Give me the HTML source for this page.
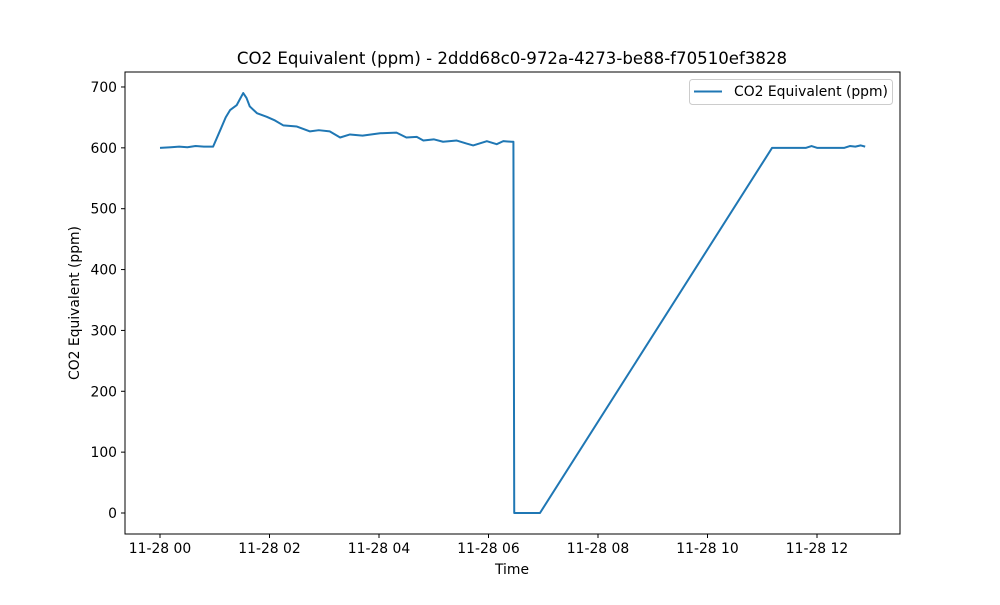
<!DOCTYPE html>
<html><head><meta charset="utf-8"><style>
body{margin:0;background:#fff}
svg text{font-family:"DejaVu Sans","Liberation Sans",sans-serif;fill:#000}
</style></head><body>
<svg id="chart" width="1000" height="600" xmlns="http://www.w3.org/2000/svg">
<rect width="1000" height="600" fill="#fff"/>
<text x="512" y="64" font-size="16.6" text-anchor="middle">CO2 Equivalent (ppm) - 2ddd68c0-972a-4273-be88-f70510ef3828</text>
<g id="plot"></g>
<rect x="125" y="72" width="775" height="462" fill="none" stroke="#000" stroke-width="1"/>
<text x="512" y="574" font-size="13.9" text-anchor="middle">Time</text>
<text transform="translate(79,303) rotate(-90)" font-size="13.9" text-anchor="middle">CO2 Equivalent (ppm)</text>
<g>
<rect x="689.5" y="79.5" width="203" height="25" rx="3" fill="#fff" fill-opacity="0.8" stroke="#ccc"/>
<line x1="694" y1="91.5" x2="722" y2="91.5" stroke="#1f77b4" stroke-width="2"/>
<text x="734" y="96" font-size="13.9">CO2 Equivalent (ppm)</text>
</g>
</svg>
<script>
const hours = [0,0.2,0.35,0.5,0.65,0.8,0.97,1.1,1.2,1.28,1.4,1.46,1.52,1.58,1.64,1.77,1.95,2.1,2.25,2.5,2.74,2.9,3.1,3.29,3.47,3.7,4.02,4.32,4.5,4.69,4.81,5.0,5.17,5.42,5.6,5.72,5.97,6.15,6.27,6.42,6.455,6.47,6.94,11.18,11.8,11.9,12.0,12.5,12.6,12.7,12.8,12.88];
const values = [600,601,602,601,603,602,602,629,650,662,670,680,690,682,668,657,651,645,637,635,627,629,627,617,622,620,624,625,617,618,612,614,610,612,607,604,611,606,611,610,610,0,0,600,600,603,600,600,603,602,604,602];
const xTickHours = [0,2,4,6,8,10,12];
const xTickLabels = ["11-28 00","11-28 02","11-28 04","11-28 06","11-28 08","11-28 10","11-28 12"];
const yTicks = [0,100,200,300,400,500,600,700];

const NS="http://www.w3.org/2000/svg";
const xs=h=>160+h*54.75;
const ys=v=>513-v*0.6086;
const g=document.getElementById('plot');
function mk(tag,attrs){const e=document.createElementNS(NS,tag);for(const k in attrs)e.setAttribute(k,attrs[k]);g.appendChild(e);return e;}
xTickHours.forEach((h,i)=>{
  const t=mk('line',{x1:xs(h),x2:xs(h),y1:534,y2:538,stroke:'#000'});
  
  
  const l=mk('text',{x:xs(h),y:553,'font-size':13.9,'text-anchor':'middle'});
  l.textContent=xTickLabels[i];
  
  
});
yTicks.forEach(v=>{
  const t=mk('line',{x1:121,x2:125,y1:ys(v),y2:ys(v),stroke:'#000'});
  
  
  const l=mk('text',{x:117,y:ys(v)+5,'font-size':13.9,'text-anchor':'end'});
  l.textContent=v;
  
  
});
const p=mk('polyline',{points:hours.map((h,i)=>xs(h)+','+ys(values[i])).join(' '),fill:'none',stroke:'#1f77b4','stroke-width':2,'stroke-linejoin':'round'});


</script>
</body></html>
